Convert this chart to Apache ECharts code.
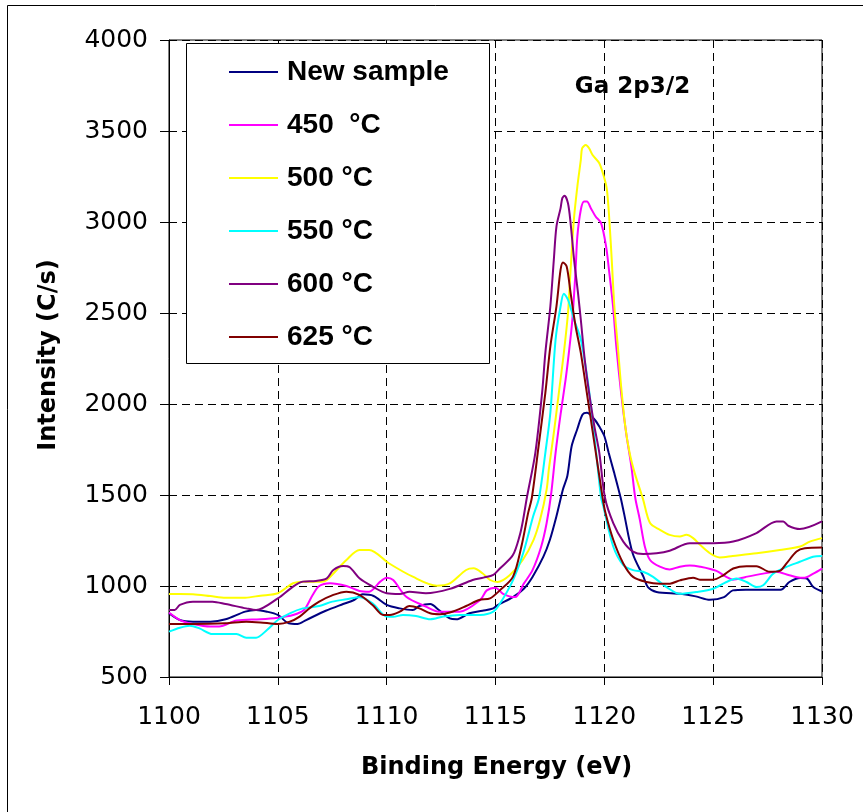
<!DOCTYPE html>
<html>
<head>
<meta charset="utf-8">
<script src="https://cdn.jsdelivr.net/npm/echarts@6/dist/echarts.min.js"></script>
<style>
  html, body { margin: 0; padding: 0; background: #fff; }
  #chart { width: 863px; height: 812px; }
</style>
</head>
<body>
<div id="chart"></div>
<script>
// ---- Data (Binding Energy eV, Intensity C/s) ----
const seriesNames = ['New sample', '450  °C', '500 °C', '550 °C', '600 °C', '625 °C'];
const seriesColors = ['#000080', '#FF00FF', '#FFFF00', '#00FFFF', '#800080', '#800000'];

const newSample = [
[1100,850],[1100.5,813],[1101.1,804],[1101.9,804],[1102.6,817],[1103.5,859],[1104.0,868],[1104.5,859],[1105.0,841],[1105.5,795],[1105.9,791],[1106.3,813],[1107.2,864],[1108.0,901],[1108.5,923],[1108.9,954],[1109.4,945],[1110.0,896],[1110.6,877],[1111.2,868],[1111.5,890],[1112.0,901],[1112.4,868],[1112.9,822],[1113.2,817],[1113.8,850],[1114.4,864],[1114.9,877],[1115.1,895],[1115.8,939],[1116.3,985],[1116.7,1050],[1117.2,1161],[1117.5,1254],[1117.8,1383],[1118.1,1531],[1118.3,1604],[1118.5,1769],[1118.75,1860],[1119.0,1942],[1119.2,1952],[1119.55,1915],[1119.8,1870],[1120.0,1824],[1120.2,1732],[1120.45,1623],[1120.75,1485],[1120.9,1402],[1121.3,1180],[1121.8,1050],[1122.0,994],[1122.4,967],[1123.5,957],[1124.2,943],[1124.85,924],[1125.5,939],[1125.9,976],[1126.5,980],[1128.1,980],[1128.5,1022],[1129.0,1044],[1129.3,1041],[1129.6,994],[1130,970]
];
const t450 = [
[1100,854],[1100.5,813],[1101.1,791],[1101.9,777],[1102.3,777],[1103.1,810],[1104.2,817],[1105.0,826],[1105.7,841],[1106.2,868],[1106.6,951],[1106.9,1000],[1107.4,1015],[1108.15,1000],[1108.75,973],[1109.2,969],[1109.7,1024],[1110.0,1046],[1110.3,1033],[1110.9,941],[1111.8,887],[1112.4,859],[1113.35,859],[1114.3,923],[1114.6,976],[1115.0,991],[1115.35,957],[1115.9,939],[1116.3,1013],[1116.7,1087],[1117.1,1217],[1117.35,1346],[1117.55,1500],[1117.76,1732],[1118.0,1952],[1118.22,2134],[1118.37,2281],[1118.53,2463],[1118.68,2738],[1118.76,2920],[1118.92,3067],[1119.07,3112],[1119.2,3112],[1119.38,3076],[1119.6,3030],[1119.85,2994],[1120.08,2866],[1120.23,2719],[1120.4,2537],[1120.55,2317],[1120.77,2061],[1121.0,1842],[1121.24,1659],[1121.42,1485],[1121.63,1365],[1121.86,1217],[1122.1,1143],[1122.55,1106],[1123.0,1091],[1123.47,1106],[1123.93,1113],[1124.4,1106],[1125.15,1083],[1125.6,1050],[1125.9,1035],[1126.5,1050],[1127.3,1068],[1127.9,1078],[1128.5,1059],[1129.0,1046],[1129.2,1046],[1129.6,1068],[1130,1096]
];
const t500 = [
[1100,956],[1100.5,956],[1101.1,955],[1101.9,945],[1102.6,936],[1103.5,936],[1104.2,947],[1105.0,960],[1105.7,1015],[1106.2,1024],[1107.0,1024],[1107.25,1033],[1108.15,1143],[1108.75,1198],[1109.2,1198],[1110.1,1125],[1111.2,1051],[1112.3,1002],[1112.9,1015],[1113.65,1088],[1114.0,1097],[1114.4,1070],[1114.75,1033],[1115.1,1022],[1115.65,1059],[1116.25,1143],[1116.75,1254],[1117.05,1365],[1117.35,1531],[1117.45,1641],[1117.68,1842],[1117.91,2061],[1118.14,2281],[1118.33,2500],[1118.45,2738],[1118.6,3012],[1118.76,3195],[1118.92,3341],[1118.98,3405],[1119.15,3423],[1119.3,3405],[1119.46,3368],[1119.77,3323],[1120.0,3240],[1120.12,3176],[1120.23,3012],[1120.34,2793],[1120.46,2537],[1120.62,2317],[1120.77,2098],[1120.96,1879],[1121.16,1732],[1121.39,1623],[1121.78,1476],[1122.1,1346],[1122.55,1309],[1123.0,1281],[1123.47,1272],[1123.77,1281],[1124.08,1263],[1124.4,1226],[1124.85,1180],[1125.3,1157],[1125.9,1165],[1127.0,1180],[1128.06,1198],[1129.0,1217],[1129.44,1244],[1130,1263]
];
const t550 = [
[1100,749],[1100.5,771],[1100.95,782],[1101.4,767],[1102.0,736],[1103.1,736],[1103.55,716],[1104.0,716],[1104.5,758],[1105.0,813],[1105.55,850],[1106.15,877],[1106.9,890],[1107.5,914],[1108.15,927],[1108.75,938],[1109.35,905],[1110.0,832],[1110.3,831],[1110.75,841],[1111.35,835],[1112.0,817],[1112.6,832],[1113.35,841],[1114.3,841],[1114.9,859],[1115.2,902],[1115.8,1031],[1116.27,1180],[1116.73,1383],[1117.0,1485],[1117.29,1732],[1117.52,1952],[1117.76,2354],[1117.99,2537],[1118.14,2606],[1118.33,2573],[1118.61,2463],[1118.92,2354],[1119.23,2134],[1119.46,1915],[1119.69,1659],[1119.85,1485],[1119.95,1439],[1120.41,1217],[1120.87,1115],[1121.32,1087],[1121.78,1078],[1122.24,1050],[1122.86,994],[1123.47,957],[1124.23,967],[1125.0,985],[1125.61,1022],[1126.07,1041],[1126.53,1022],[1126.99,994],[1127.3,1004],[1127.76,1068],[1128.37,1105],[1128.98,1133],[1129.59,1161],[1130,1165]
];
const t600 = [
[1100,868],[1100.26,868],[1100.5,896],[1101.1,914],[1102.0,914],[1102.6,901],[1103.55,877],[1104.0,868],[1105.0,932],[1105.7,997],[1106.15,1024],[1106.75,1028],[1107.25,1042],[1107.55,1088],[1108.0,1110],[1108.3,1103],[1108.75,1042],[1109.35,997],[1110.0,960],[1110.6,956],[1111.05,969],[1111.8,960],[1112.9,984],[1113.95,1033],[1114.45,1046],[1114.9,1061],[1115.2,1096],[1115.8,1170],[1116.12,1281],[1116.27,1365],[1116.44,1485],[1116.83,1732],[1117.14,2061],[1117.29,2281],[1117.52,2537],[1117.68,2793],[1117.8,2975],[1117.99,3076],[1118.07,3131],[1118.17,3144],[1118.33,3103],[1118.45,2994],[1118.61,2793],[1118.79,2610],[1118.92,2463],[1119.1,2244],[1119.3,2061],[1119.54,1879],[1119.77,1732],[1120.03,1485],[1120.41,1346],[1120.87,1244],[1121.32,1189],[1121.78,1176],[1122.4,1180],[1123.0,1194],[1123.93,1235],[1125.0,1235],[1125.92,1244],[1126.99,1291],[1127.91,1355],[1128.22,1355],[1128.45,1331],[1128.98,1313],[1130,1355]
];
const t625 = [
[1100,791],[1101.1,791],[1102.6,795],[1103.55,804],[1104.2,800],[1105.0,791],[1105.55,804],[1106.0,832],[1106.45,877],[1106.9,914],[1107.55,951],[1108.15,969],[1108.75,951],[1109.35,896],[1109.85,841],[1110.15,841],[1110.6,859],[1111.05,890],[1111.5,877],[1112.0,850],[1112.45,845],[1112.9,854],[1113.65,890],[1114.25,923],[1114.75,932],[1115.2,976],[1115.8,1050],[1116.19,1217],[1116.5,1402],[1116.67,1485],[1116.98,1769],[1117.29,2061],[1117.52,2317],[1117.8,2537],[1117.99,2738],[1118.1,2778],[1118.27,2756],[1118.45,2610],[1118.68,2427],[1118.92,2281],[1119.15,2098],[1119.38,1915],[1119.61,1732],[1119.92,1485],[1120.05,1402],[1120.41,1254],[1120.87,1124],[1121.32,1050],[1121.94,1022],[1122.55,1013],[1123.01,1013],[1123.47,1031],[1124.08,1046],[1124.39,1035],[1125.0,1035],[1125.46,1059],[1125.92,1096],[1126.53,1109],[1126.99,1109],[1127.6,1078],[1128.06,1083],[1128.37,1124],[1128.83,1189],[1129.21,1207],[1130,1211]
];
const seriesData = [newSample, t450, t500, t550, t600, t625];

const xMin = 1100, xMax = 1130, xStep = 5;
const yMin = 500, yMax = 4000, yStep = 500;

const xTitle = 'Binding Energy (eV)';
const yTitle = 'Intensity (C/s)';
const peakLabel = 'Ga 2p3/2';

// ---- Chart ----
const chart = echarts.init(document.getElementById('chart'), null, { renderer: 'canvas' });
const gridDash = { color: '#000', width: 1, type: [8, 5] };
const tickFont = { fontFamily: '"DejaVu Sans", sans-serif', fontSize: 25, color: '#000', formatter: v => String(v) };

const option = {
  animation: false,
  backgroundColor: '#ffffff',
  grid: { left: 169, right: 41, top: 40, bottom: 135, show: true, borderColor: '#000', borderWidth: 1, backgroundColor: 'transparent' },
  legend: {
    data: seriesNames,
    orient: 'vertical',
    left: 229, top: 57,
    padding: 0,
    icon: 'rect',
    itemWidth: 49, itemHeight: 2, itemGap: 23,
    z: 10,
    textStyle: { fontFamily: '"Liberation Sans", Arial, sans-serif', fontWeight: 'bold', fontSize: 28, color: '#000', lineHeight: 30, padding: [0, 0, 0, 4] }
  },
  xAxis: {
    type: 'value', min: xMin, max: xMax, interval: xStep,
    axisLine: { show: true, onZero: false, lineStyle: { color: '#000', width: 1 } },
    axisTick: { show: true, length: 8, lineStyle: { color: '#000' } },
    axisLabel: Object.assign({ margin: 28 }, tickFont),
    splitLine: { show: true, lineStyle: gridDash }
  },
  yAxis: [{
    type: 'value', min: yMin, max: yMax, interval: yStep,
    axisLine: { show: true, onZero: false, lineStyle: { color: '#000', width: 1 } },
    axisTick: { show: true, length: 9, lineStyle: { color: '#000' } },
    axisLabel: Object.assign({ margin: 21 }, tickFont),
    splitLine: { show: true, lineStyle: gridDash }
  }, {
    type: 'value', position: 'left', min: yMin, max: yMax, interval: yStep,
    axisLine: { show: false },
    axisTick: { show: true, inside: true, length: 8, lineStyle: { color: '#000' } },
    axisLabel: { show: false },
    splitLine: { show: false }
  }],
  series: seriesData.map((d, i) => ({
    name: seriesNames[i],
    type: 'line',
    data: d,
    yAxisIndex: 0,
    color: seriesColors[i],
    showSymbol: false,
    symbol: 'none',
    smooth: 0.3,
    lineStyle: { width: 2, color: seriesColors[i] },
    z: 2 + i * 0.1
  })),
  graphic: [
    { type: 'rect', z: 1, silent: true, shape: { x: 7.5, y: 5.5, width: 1000, height: 1000 }, style: { fill: 'none', stroke: '#000', lineWidth: 1 } },
    { type: 'rect', z: 5, silent: true, shape: { x: 186.5, y: 43.5, width: 303, height: 320 }, style: { fill: '#fff', stroke: '#000', lineWidth: 1 } },
    { type: 'text', z: 6, x: 632.5, y: 87, style: { text: peakLabel, font: 'bold 23px "DejaVu Sans", sans-serif', fill: '#000', textAlign: 'center', textVerticalAlign: 'middle' } },
    { type: 'text', z: 6, x: 496.5, y: 768, style: { text: xTitle, font: 'bold 24px "DejaVu Sans", sans-serif', fill: '#000', textAlign: 'center', textVerticalAlign: 'middle' } },
    { type: 'text', z: 6, x: 49, y: 355, rotation: Math.PI / 2, style: { text: yTitle, font: 'bold 24px "DejaVu Sans", sans-serif', fill: '#000', textAlign: 'center', textVerticalAlign: 'middle' } }
  ]
};
chart.setOption(option);
</script>
</body>
</html>
